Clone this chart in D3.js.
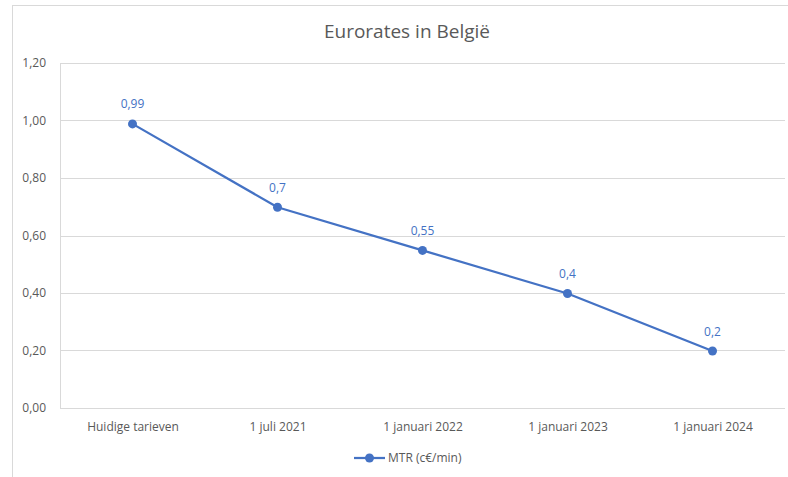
<!DOCTYPE html>
<html><head><meta charset="utf-8">
<script src="https://cdn.jsdelivr.net/npm/d3@7"></script>
<style>body{margin:0;background:#fff;}svg{display:block;}text{font-family:"Open Sans","Noto Sans",sans-serif;}</style>
</head><body>
<svg id="c" width="788" height="477"></svg>
<script>
const categories = ["Huidige tarieven","1 juli 2021","1 januari 2022","1 januari 2023","1 januari 2024"];
const values = [0.99, 0.7, 0.55, 0.4, 0.2];
const labels = ["0,99","0,7","0,55","0,4","0,2"];
const yTicks = [0,0.2,0.4,0.6,0.8,1.0,1.2];
const title = "Eurorates in België";
const seriesName = "MTR (c€/min)";

const svg = d3.select("#c");
const blue = "#4472C4", grey = "#595959", grid = "#D9D9D9";
// chart border
svg.append("rect").attr("x",12.5).attr("y",5.5).attr("width",790).attr("height",480)
  .attr("fill","#fff").attr("stroke","#D9D9D9").attr("stroke-width",1);

const L=60, R=785, T=63, B=408;
const x = d3.scalePoint().domain(categories).range([L,R]).padding(0.5);
const y = d3.scaleLinear().domain([0,1.2]).range([B,T]);

svg.append("text").attr("x",407).attr("y",38).attr("text-anchor","middle")
  .attr("font-size",19).attr("fill",grey).text(title);

// gridlines
svg.append("g").selectAll("line").data(yTicks).join("line")
  .attr("x1",L).attr("x2",R).attr("y1",d=>Math.round(y(d))+0.5).attr("y2",d=>Math.round(y(d))+0.5)
  .attr("stroke",grid).attr("stroke-width",1);
svg.append("line").attr("x1",L+0.5).attr("x2",L+0.5).attr("y1",T).attr("y2",B).attr("stroke",grid);

const fmt = d=>d.toFixed(2).replace(".",",");
const ya = svg.append("g").attr("transform",`translate(${L},0)`)
  .call(d3.axisLeft(y).tickValues(yTicks).tickFormat(fmt).tickSize(0).tickPadding(14));
ya.select(".domain").remove();
ya.selectAll("text").attr("font-size",12).attr("fill",grey).attr("font-family","'Open Sans',sans-serif");

const xa = svg.append("g").attr("transform",`translate(0,${B})`)
  .call(d3.axisBottom(x).tickSize(0).tickPadding(14));
xa.select(".domain").remove();
xa.selectAll("text").attr("font-size",12).attr("fill",grey).attr("font-family","'Open Sans',sans-serif");

const line = d3.line().x((d,i)=>x(categories[i])).y(d=>y(d)+0.5);
svg.append("path").datum(values).attr("d",line).attr("fill","none")
  .attr("stroke",blue).attr("stroke-width",2.25).attr("stroke-linejoin","round");
svg.append("g").selectAll("circle").data(values).join("circle")
  .attr("cx",(d,i)=>x(categories[i])).attr("cy",d=>y(d)+0.5).attr("r",4.5).attr("fill",blue);
svg.append("g").selectAll("text").data(values).join("text")
  .attr("x",(d,i)=>x(categories[i])).attr("y",d=>y(d)-15).attr("text-anchor","middle")
  .attr("font-size",12).attr("fill",blue).text((d,i)=>labels[i]);

// legend
const lg = svg.append("g");
lg.append("line").attr("x1",354).attr("x2",385).attr("y1",458).attr("y2",458).attr("stroke",blue).attr("stroke-width",2.25);
lg.append("circle").attr("cx",369.5).attr("cy",458).attr("r",4.5).attr("fill",blue);
lg.append("text").attr("x",388).attr("y",462).attr("font-size",12).attr("fill",grey).text(seriesName);
</script>
</body></html>
